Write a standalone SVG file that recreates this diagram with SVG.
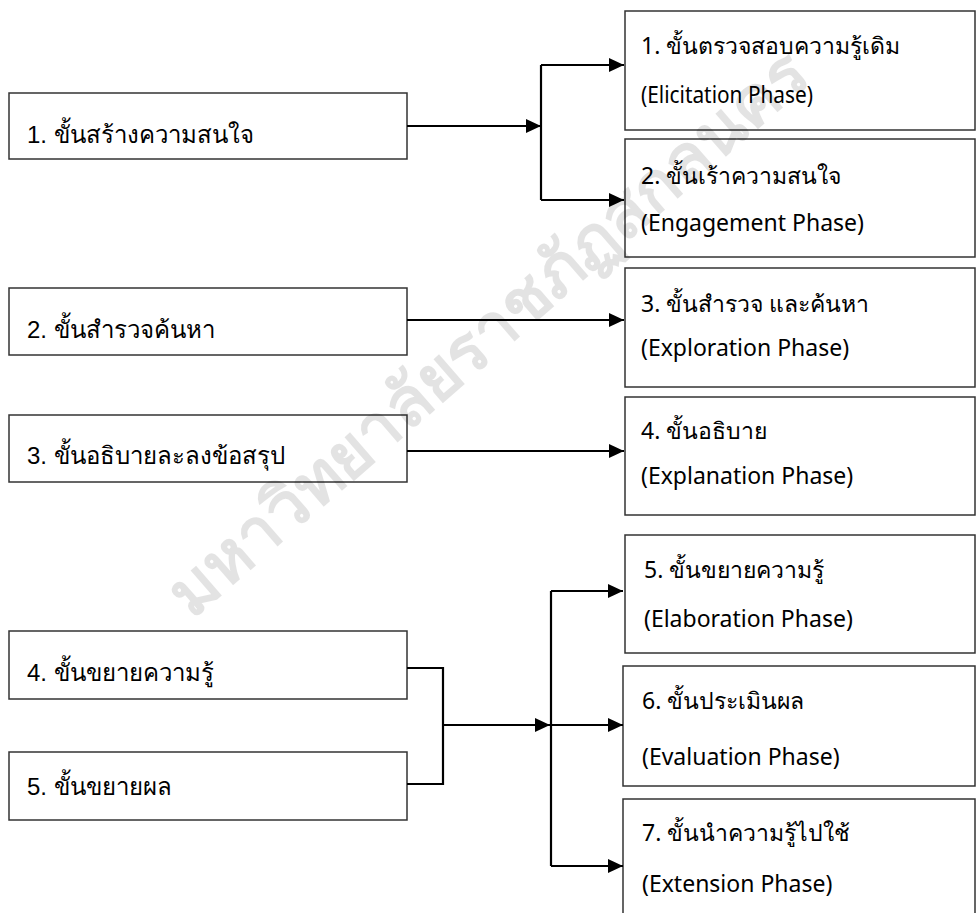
<svg xmlns="http://www.w3.org/2000/svg" width="979" height="913" viewBox="0 0 979 913">
<style>
.box{fill:none;stroke:#333;stroke-width:1.5}
.conn{fill:none;stroke:#000;stroke-width:2.2}
.lt{font-family:"Liberation Sans","Noto Sans",sans-serif;font-size:24px;fill:#000}
.rt{font-family:"Noto Sans","Liberation Sans",sans-serif;font-size:23px;fill:#000}
.wm{font-family:"Noto Sans","Liberation Sans",sans-serif;font-size:67px;fill:#000;fill-opacity:0.11;font-weight:bold}
</style>
<defs>
<marker id="ah" markerUnits="userSpaceOnUse" markerWidth="16" markerHeight="14" refX="15" refY="7" orient="auto">
<path d="M0,0 L15,7 L0,14 z" fill="#000"/>
</marker>
</defs>
<rect width="979" height="913" fill="#fff"/>
<g id="L1"><rect class="box" x="9" y="93" width="398" height="66"/><text class="lt" x="27" y="143">1. ขั้นสร้างความสนใจ</text></g>
<g id="L2"><rect class="box" x="9" y="288" width="398" height="67"/><text class="lt" x="27" y="338">2. ขั้นสำรวจค้นหา</text></g>
<g id="L3"><rect class="box" x="9" y="415" width="398" height="67"/><text class="lt" x="27" y="464">3. ขั้นอธิบายละลงข้อสรุป</text></g>
<g id="L4"><rect class="box" x="9" y="631" width="398" height="68"/><text class="lt" x="27" y="681">4. ขั้นขยายความรู้</text></g>
<g id="L5"><rect class="box" x="9" y="752" width="398" height="68"/><text class="lt" x="27" y="795">5. ขั้นขยายผล</text></g>
<g id="R1"><rect class="box" x="625" y="11" width="350" height="119"/><text class="rt" x="641" y="54">1. ขั้นตรวจสอบความรู้เดิม</text><text class="rt" x="641" y="103" textLength="172" lengthAdjust="spacingAndGlyphs">(Elicitation Phase)</text></g>
<g id="R2"><rect class="box" x="625" y="139" width="350" height="118"/><text class="rt" x="641" y="184">2. ขั้นเร้าความสนใจ</text><text class="rt" x="641" y="231">(Engagement Phase)</text></g>
<g id="R3"><rect class="box" x="625" y="268" width="350" height="119"/><text class="rt" x="641" y="312">3. ขั้นสำรวจ และค้นหา</text><text class="rt" x="641" y="356">(Exploration Phase)</text></g>
<g id="R4"><rect class="box" x="625" y="397" width="350" height="118"/><text class="rt" x="641" y="439">4. ขั้นอธิบาย</text><text class="rt" x="641" y="484">(Explanation Phase)</text></g>
<g id="R5"><rect class="box" x="625" y="535" width="350" height="118"/><text class="rt" x="644" y="578">5. ขั้นขยายความรู้</text><text class="rt" x="644" y="627">(Elaboration Phase)</text></g>
<g id="R6"><rect class="box" x="623" y="666" width="352" height="120"/><text class="rt" x="642" y="709">6. ขั้นประเมินผล</text><text class="rt" x="642" y="765">(Evaluation Phase)</text></g>
<g id="R7"><rect class="box" x="623" y="799" width="352" height="130"/><text class="rt" x="642" y="841">7. ขั้นนำความรู้ไปใช้</text><text class="rt" x="642" y="892">(Extension Phase)</text></g>
<g id="connectors">
<path class="conn" d="M407,126 H541" marker-end="url(#ah)"/>
<path class="conn" d="M541,65 V200"/>
<path class="conn" d="M541,65 H624" marker-end="url(#ah)"/>
<path class="conn" d="M541,200 H624" marker-end="url(#ah)"/>
<path class="conn" d="M407,320 H624" marker-end="url(#ah)"/>
<path class="conn" d="M407,451 H624" marker-end="url(#ah)"/>
<path class="conn" d="M407,668 H443 V784 H407"/>
<path class="conn" d="M443,725 H550" marker-end="url(#ah)"/>
<path class="conn" d="M551,591 V866"/>
<path class="conn" d="M551,591 H623" marker-end="url(#ah)"/>
<path class="conn" d="M551,725 H623" marker-end="url(#ah)"/>
<path class="conn" d="M551,866 H623" marker-end="url(#ah)"/>
</g>
<text class="wm" transform="translate(192,620) rotate(-41)">มหาวิทยาลัยราชภัฏสกลนคร</text>
</svg>
